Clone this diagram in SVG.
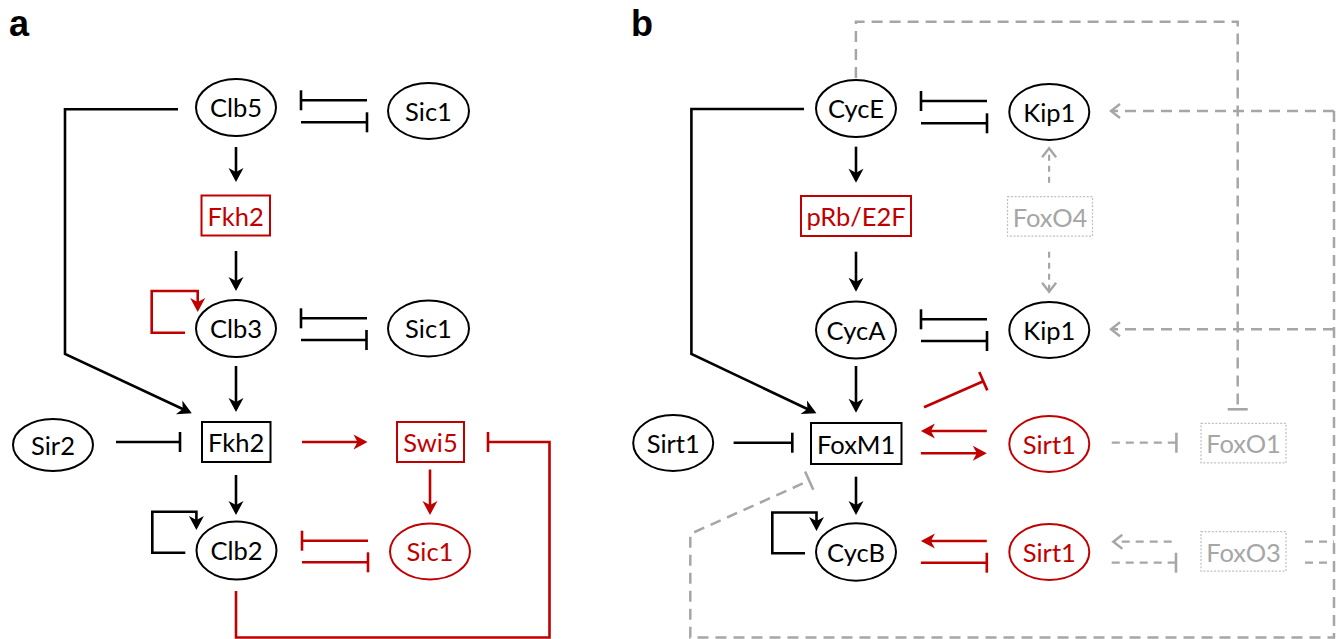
<svg xmlns="http://www.w3.org/2000/svg" width="1343" height="639" viewBox="0 0 1343 639">
  <style>
    .node ellipse, .node rect { fill: #ffffff; stroke: #000000; stroke-width: 2; }
    .node.red ellipse, .node.red rect { stroke: #c00000; }
    .node.grey rect { stroke: #bfbfbf; stroke-width: 1.2; stroke-dasharray: 2 1.6; }
    .node text { font-family: Lato, "Liberation Sans", sans-serif; font-size: 25.5px; text-anchor: middle; fill: #000000; }
    .node.red text { fill: #c00000; }
    .node.grey text { fill: #a6a6a6; }
    .panel { font-family: "Liberation Sans", Arial, sans-serif; font-size: 36px; font-weight: bold; fill: #000000; }
    .k { fill: none; stroke: #000000; stroke-width: 2.6; }
    .r { fill: none; stroke: #c00000; stroke-width: 2.6; }
    .g { fill: none; stroke: #a6a6a6; stroke-width: 2.5; stroke-dasharray: 11 7; }
    .gs { fill: none; stroke: #a6a6a6; stroke-width: 2.3; stroke-dasharray: 8 6; }
    .gt { fill: none; stroke: #a6a6a6; stroke-width: 2.2; stroke-dasharray: 6 5; }
    .ak { marker-end: url(#arrowK); }
    .ar { marker-end: url(#arrowR); }
    .ag { marker-end: url(#arrowG); }
    .bk { marker-end: url(#barK); }
    .br { marker-end: url(#barR); }
    .bg { marker-end: url(#barG); }
  </style>
  <defs>
    <marker id="arrowK" viewBox="-13 -9 18 18" refX="0" refY="0" markerWidth="18" markerHeight="18" markerUnits="userSpaceOnUse" orient="auto">
      <path d="M3,0 L-11,-7.5 L-7,0 L-11,7.5 Z" fill="#000000"/>
    </marker>
    <marker id="arrowR" viewBox="-13 -9 18 18" refX="0" refY="0" markerWidth="18" markerHeight="18" markerUnits="userSpaceOnUse" orient="auto">
      <path d="M3,0 L-11,-7.5 L-7,0 L-11,7.5 Z" fill="#c00000"/>
    </marker>
    <marker id="arrowG" viewBox="-13 -9 18 18" refX="0" refY="0" markerWidth="18" markerHeight="18" markerUnits="userSpaceOnUse" orient="auto">
      <path d="M-9,-7 L0,0 L-9,7" fill="none" stroke="#a6a6a6" stroke-width="2.4"/>
    </marker>
    <marker id="barK" viewBox="-3 -12 6 24" refX="0" refY="0" markerWidth="6" markerHeight="24" markerUnits="userSpaceOnUse" orient="auto">
      <path d="M0,-10 V10" stroke="#000000" stroke-width="2.6"/>
    </marker>
    <marker id="barR" viewBox="-3 -12 6 24" refX="0" refY="0" markerWidth="6" markerHeight="24" markerUnits="userSpaceOnUse" orient="auto">
      <path d="M0,-10 V10" stroke="#c00000" stroke-width="2.6"/>
    </marker>
    <marker id="barG" viewBox="-3 -12 6 24" refX="0" refY="0" markerWidth="6" markerHeight="24" markerUnits="userSpaceOnUse" orient="auto">
      <path d="M0,-10 V10" stroke="#a6a6a6" stroke-width="2.6"/>
    </marker>
  </defs>

  <!-- panel labels -->
  <text class="panel" x="9" y="35.5">a</text>
  <text class="panel" x="631" y="35.5">b</text>

  <!-- connectors -->
  <g id="connectors">
    <!-- panel a -->
    <path class="k bk" d="M367,100.3 H301"/>
    <path class="k bk" d="M301,122.3 H367"/>
    <path class="k ak" d="M178,109.3 H65 V354 L189.1,412"/>
    <path class="k ak" d="M236,147 V179"/>
    <path class="k ak" d="M236,251 V288"/>
    <path class="r ar" d="M185,332.7 H151.7 V291 H197.7 V309"/>
    <path class="k bk" d="M367,318.3 H301"/>
    <path class="k bk" d="M301,340 H366.5"/>
    <path class="k ak" d="M236,366 V409"/>
    <path class="k bk" d="M116,442 H180"/>
    <path class="r ar" d="M302,442 H364.5"/>
    <path class="r br" d="M236,591 V637.5 H549.5 V442 H488"/>
    <path class="r ar" d="M430,469.5 V512"/>
    <path class="k ak" d="M236,475 V512"/>
    <path class="k ak" d="M185.3,552.7 H152.3 V511.7 H196.4 V527"/>
    <path class="r br" d="M368,540.7 H302"/>
    <path class="r br" d="M302,562.3 H368"/>

    <!-- panel b -->
    <path class="k bk" d="M987,101 H921"/>
    <path class="k bk" d="M921,123.3 H987"/>
    <path class="k ak" d="M804,109 H691.4 V354 L813.7,412"/>
    <path class="k ak" d="M856,146.7 V179.7"/>
    <path class="k ak" d="M856,251.7 V288.7"/>
    <path class="k bk" d="M987,319.3 H921"/>
    <path class="k bk" d="M921,341 H987"/>
    <path class="k ak" d="M856,366 V409.7"/>
    <path class="r br" d="M924,407.3 L983.3,381.2"/>
    <path class="k bk" d="M733.6,442.7 H792.3"/>
    <path class="r ar" d="M986.8,431 H923.9"/>
    <path class="r ar" d="M920.9,453.3 H983.8"/>
    <path class="k ak" d="M856,476.7 V512"/>
    <path class="k ak" d="M805,553.3 H772.3 V512.5 H816.5 V528"/>
    <path class="r ar" d="M986.8,541 H923.9"/>
    <path class="r br" d="M920.9,562.7 H986.8"/>

    <!-- grey dashed links -->
    <path class="g bg" d="M855.9,78 V21.7 H1237.7 V409.3"/>
    <path class="gt ag" d="M1049.1,182.7 V148.3"/>
    <path class="gt ag" d="M1049.1,251.7 V291.7"/>
    <path class="g ag" d="M1334,111 H1111"/>
    <path class="g ag" d="M1334,329.3 H1111"/>
    <path class="g bg" d="M1334,111 V637.5 H690.3 V534 L809.2,480.6"/>
    <path class="gs" d="M1305,541.7 H1334"/>
    <path class="gs" d="M1305,562.7 H1334"/>
    <path class="gs bg" d="M1111.8,442.7 H1176.4"/>
    <path class="gs ag" d="M1171.7,541.7 H1113.3"/>
    <path class="gs bg" d="M1111.7,562.7 H1176"/>
  </g>

  <!-- panel a nodes -->
  <g id="a-Clb5" class="node"><ellipse cx="236" cy="107.5" rx="40" ry="28.5"/><text x="236" y="117">Clb5</text></g>
  <g id="a-Sic1-top" class="node"><ellipse cx="428.5" cy="111" rx="40.5" ry="28"/><text x="428.5" y="120.5">Sic1</text></g>
  <g id="a-Fkh2-top" class="node red"><rect x="201.5" y="195.5" width="68.5" height="40"/><text x="235.7" y="225.5">Fkh2</text></g>
  <g id="a-Clb3" class="node"><ellipse cx="236" cy="328.5" rx="40" ry="28.5"/><text x="236" y="338">Clb3</text></g>
  <g id="a-Sic1-mid" class="node"><ellipse cx="428.5" cy="328.5" rx="40.5" ry="28"/><text x="428.5" y="338">Sic1</text></g>
  <g id="a-Sir2" class="node"><ellipse cx="53" cy="445" rx="40" ry="26"/><text x="53" y="454.5">Sir2</text></g>
  <g id="a-Fkh2" class="node"><rect x="202" y="422" width="68.5" height="40"/><text x="236.2" y="452">Fkh2</text></g>
  <g id="a-Swi5" class="node red"><rect x="397" y="422" width="67" height="40"/><text x="430.5" y="452">Swi5</text></g>
  <g id="a-Clb2" class="node"><ellipse cx="236.5" cy="550.5" rx="40" ry="29"/><text x="236.5" y="560">Clb2</text></g>
  <g id="a-Sic1-low" class="node red"><ellipse cx="430" cy="551.5" rx="40" ry="28"/><text x="430" y="561">Sic1</text></g>

  <!-- panel b nodes -->
  <g id="b-CycE" class="node"><ellipse cx="856" cy="108.5" rx="40" ry="28.5"/><text x="856" y="118">CycE</text></g>
  <g id="b-Kip1-top" class="node"><ellipse cx="1049.3" cy="112" rx="40" ry="28"/><text x="1049.3" y="121.5">Kip1</text></g>
  <g id="b-pRbE2F" class="node red"><rect x="801" y="196" width="110" height="40"/><text x="856" y="226">pRb/E2F</text></g>
  <g id="b-FoxO4" class="node grey"><rect x="1007.5" y="196.7" width="85" height="39.5"/><text x="1050" y="226.5">FoxO4</text></g>
  <g id="b-CycA" class="node"><ellipse cx="856" cy="330" rx="40" ry="28.5"/><text x="856" y="339.5">CycA</text></g>
  <g id="b-Kip1-mid" class="node"><ellipse cx="1049.3" cy="330" rx="40" ry="28"/><text x="1049.3" y="339.5">Kip1</text></g>
  <g id="b-Sirt1-left" class="node"><ellipse cx="673.2" cy="443" rx="40" ry="28"/><text x="673.2" y="452.5">Sirt1</text></g>
  <g id="b-FoxM1" class="node"><rect x="811" y="423" width="90.5" height="41"/><text x="856.2" y="453.5">FoxM1</text></g>
  <g id="b-Sirt1-mid" class="node red"><ellipse cx="1049.3" cy="444" rx="40" ry="28"/><text x="1049.3" y="453.5">Sirt1</text></g>
  <g id="b-FoxO1" class="node grey"><rect x="1201" y="423.3" width="85" height="39.5"/><text x="1243.5" y="453">FoxO1</text></g>
  <g id="b-CycB" class="node"><ellipse cx="856" cy="552" rx="40" ry="28.7"/><text x="856" y="561.5">CycB</text></g>
  <g id="b-Sirt1-low" class="node red"><ellipse cx="1049.3" cy="552" rx="40" ry="28"/><text x="1049.3" y="561.5">Sirt1</text></g>
  <g id="b-FoxO3" class="node grey"><rect x="1201" y="531.7" width="85" height="39.5"/><text x="1243.5" y="561.5">FoxO3</text></g>
</svg>
